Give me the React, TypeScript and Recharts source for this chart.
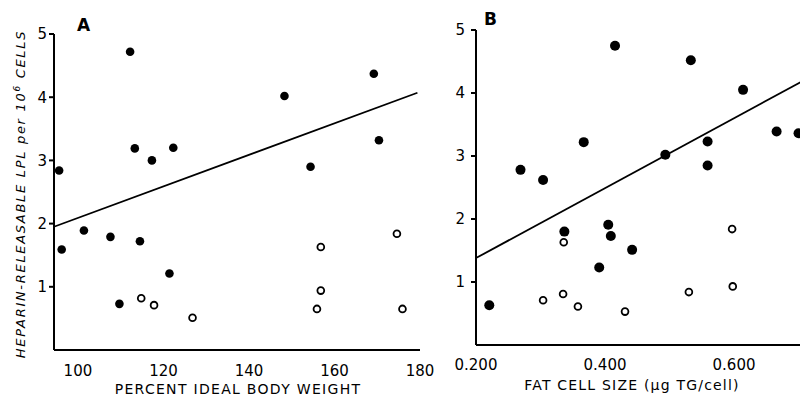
import { ReferenceLine, Scatter, ScatterChart, XAxis, YAxis } from 'recharts';

// Panel A: percent ideal body weight vs LPL
const aFilled = [
  [112.2, 4.72], [148.3, 4.02], [169.2, 4.37], [113.3, 3.19], [117.3, 3.0],
  [122.3, 3.2], [170.4, 3.32], [154.4, 2.9], [95.6, 2.84], [96.2, 1.59],
  [101.4, 1.89], [107.6, 1.79], [114.5, 1.72], [121.4, 1.21], [109.7, 0.73],
];
const aOpen = [
  [114.8, 0.82], [117.8, 0.71], [126.8, 0.51], [156.8, 1.63], [156.8, 0.94],
  [155.9, 0.65], [174.6, 1.84], [175.9, 0.65],
];
const aFit = [[94.4, 1.95], [179.4, 4.07]];
const aTicks = [100, 120, 140, 160, 180];

// Panel B: fat cell size vs LPL
const bFilled = [
  [0.4155, 4.75], [0.533, 4.52], [0.614, 4.05], [0.666, 3.39], [0.7, 3.36],
  [0.367, 3.22], [0.4935, 3.02], [0.559, 3.23], [0.559, 2.85], [0.269, 2.78],
  [0.304, 2.62], [0.337, 1.8], [0.405, 1.91], [0.409, 1.73], [0.442, 1.51],
  [0.391, 1.23], [0.2206, 0.63],
];
const bOpen = [
  [0.336, 1.63], [0.597, 1.84], [0.304, 0.71], [0.335, 0.81], [0.358, 0.61],
  [0.431, 0.53], [0.53, 0.84], [0.598, 0.93],
];
const bFit = [[0.2, 1.38], [0.71, 4.21]];
const bTicks = [0.2, 0.4, 0.6];

const yTicks = [1, 2, 3, 4, 5];

const toPts = (arr: number[][]) => arr.map(([x, y]) => ({ x, y }));

const font = '"DejaVu Sans", sans-serif';
const tickStyle = { fontSize: 15, fill: '#000', fontFamily: font };

const Filled = (r: number) => (p: any) => <circle cx={p.cx} cy={p.cy} r={r} fill="#000" />;
const Open = (p: any) => (
  <circle cx={p.cx} cy={p.cy} r={3.4} fill="#fff" stroke="#000" strokeWidth={1.8} />
);

export default function App() {
  return (
    <div
      style={{
        position: 'absolute',
        left: 0,
        top: 0,
        width: 800,
        height: 396,
        overflow: 'hidden',
        background: '#fff',
      }}
    >
      <div style={{ position: 'absolute', left: 0, top: 0 }}>
        <ScatterChart
          width={440}
          height={396}
          margin={{ top: 34, right: 20, left: 24, bottom: 16 }}
        >
          <XAxis
            type="number"
            dataKey="x"
            domain={[94.4, 180]}
            ticks={aTicks}
            allowDataOverflow
            height={30}
            tickLine={false}
            stroke="#000"
            strokeWidth={2}
            tick={tickStyle}
            tickMargin={9}
          />
          <YAxis
            type="number"
            dataKey="y"
            domain={[0, 5]}
            ticks={yTicks}
            width={30}
            stroke="#000"
            strokeWidth={2}
            tickSize={5}
            tick={tickStyle}
          />
          <ReferenceLine
            segment={toPts(aFit)}
            stroke="#000"
            strokeWidth={1.8}
            ifOverflow="visible"
          />
          <Scatter data={toPts(aFilled)} shape={Filled(4.3)} isAnimationActive={false} />
          <Scatter data={toPts(aOpen)} shape={Open} isAnimationActive={false} />
        </ScatterChart>
      </div>
      <div style={{ position: 'absolute', left: 420, top: 0 }}>
        <ScatterChart
          width={400}
          height={396}
          margin={{ top: 30, right: 15, left: 26, bottom: 21 }}
        >
          <XAxis
            type="number"
            dataKey="x"
            domain={[0.2, 0.71]}
            ticks={bTicks}
            allowDataOverflow
            height={30}
            tickLine={false}
            stroke="#000"
            strokeWidth={2}
            tick={tickStyle}
            tickMargin={8}
            tickFormatter={(v: number) => v.toFixed(3)}
          />
          <YAxis
            type="number"
            dataKey="y"
            domain={[0, 5]}
            ticks={yTicks}
            width={30}
            stroke="#000"
            strokeWidth={2}
            tickSize={5}
            tick={tickStyle}
            tickMargin={6}
          />
          <ReferenceLine
            segment={toPts(bFit)}
            stroke="#000"
            strokeWidth={1.8}
            ifOverflow="visible"
          />
          <Scatter data={toPts(bFilled)} shape={Filled(5)} isAnimationActive={false} />
          <Scatter data={toPts(bOpen)} shape={Open} isAnimationActive={false} />
        </ScatterChart>
      </div>
      <svg
        width={800}
        height={396}
        style={{ position: 'absolute', left: 0, top: 0, pointerEvents: 'none' }}
        fontFamily={font}
      >
        <text x={77} y={31} fontSize={17} fontWeight="bold">A</text>
        <text x={484} y={25} fontSize={17} fontWeight="bold">B</text>
        <text
          transform="translate(25,194) rotate(-90)"
          textAnchor="middle"
          fontSize={13}
          fontStyle="italic"
          letterSpacing={1.7}
        >
          HEPARIN-RELEASABLE LPL per 10
          <tspan dy={-5} fontSize={9}>6</tspan>
          <tspan dy={5}> CELLS</tspan>
        </text>
        <text x={238} y={394} textAnchor="middle" fontSize={14} letterSpacing={1.3}>
          PERCENT IDEAL BODY WEIGHT
        </text>
        <text x={632} y={390} textAnchor="middle" fontSize={14} letterSpacing={1.2}>
          FAT CELL SIZE (μg TG/cell)
        </text>
      </svg>
    </div>
  );
}
